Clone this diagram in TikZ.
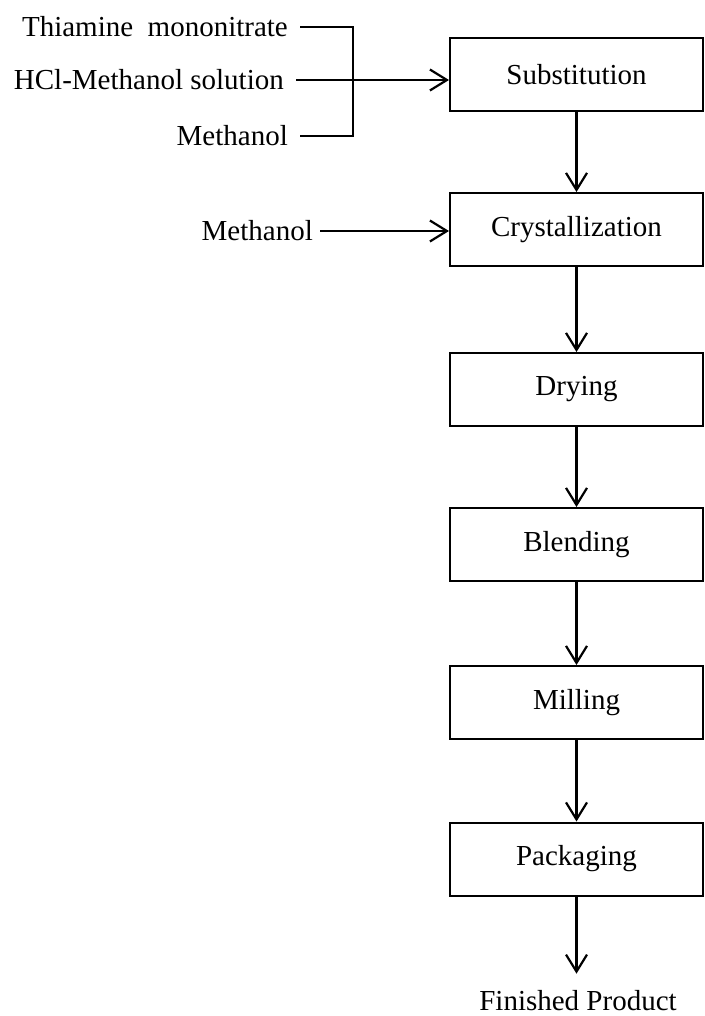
\documentclass[tikz,border=0pt]{standalone}
\usepackage{fontspec}
\setmainfont{Liberation Serif}
\usetikzlibrary{arrows.meta}

\tikzset{
  stepbox/.style={draw, line width=2pt, minimum width=253pt, minimum height=73pt, inner sep=0pt},
  feed/.style={anchor=east, inner xsep=12pt, inner ysep=0pt},
  pipe/.style={line width=2.2pt},
  flow/.style={pipe, -{Straight Barb[length=17pt,width=21pt]}},
}

\begin{document}
\begin{tikzpicture}[x=1pt,y=-1pt,font=\fontsize{29}{34}\selectfont]
        \useasboundingbox (0,0) rectangle (704,1016);
        % process steps
        \node[stepbox] (sub) at (576.5,74.5) {Substitution};
        \node[stepbox] (cry) at (576.5,229.5) {Crystallization};
        \node[stepbox] (dry) at (576.5,389.5) {Drying};
        \node[stepbox] (ble) at (576.5,544.5) {Blending};
        \node[stepbox] (mil) at (576.5,702.5) {Milling};
        \node[stepbox] (pac) at (576.5,859) {Packaging};
        \node[anchor=base,inner sep=0pt] (fin) at (578,1010) {Finished Product};

        % raw materials
        \node[feed] (thia) at (300,27) {Thiamine\ \ mononitrate};
        \node[feed] (hcl) at (296,80) {HCl-Methanol solution};
        \node[feed] (meth) at (300,136) {Methanol};
        \node[feed,inner xsep=7pt] (meth2) at (320,231) {Methanol};
        \coordinate (jn) at (353,80);

        \draw[pipe] (thia.east) -| (jn) |- (meth.east);
        \draw[flow] (hcl.east) -- (sub.west |- hcl.east);
        \draw[flow] (meth2.east) -- (cry.west |- meth2.east);

        \draw[flow] (sub) -- (cry);
        \draw[flow] (cry) -- (dry);
        \draw[flow] (dry) -- (ble);
        \draw[flow] (ble) -- (mil);
        \draw[flow] (mil) -- (pac);
        \draw[flow,shorten >=16pt] (pac) -- (pac |- fin.north);
    \end{tikzpicture}
\end{document}
